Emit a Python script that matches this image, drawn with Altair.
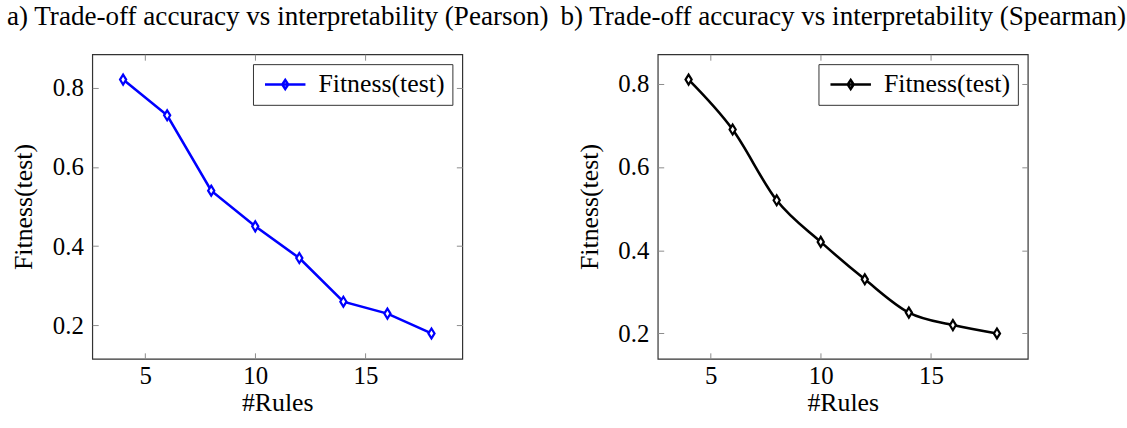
import altair as alt
import pandas as pd

# ---- data ----
rules = [4, 6, 8, 10, 12, 14, 16, 18]
pearson = [0.82, 0.73, 0.54, 0.45, 0.37, 0.26, 0.23, 0.18]
spearman = [0.81, 0.69, 0.52, 0.42, 0.33, 0.25, 0.22, 0.20]
series_name = "Fitness(test)"
x_ticks = [5, 10, 15]
y_ticks = [0.2, 0.4, 0.6, 0.8]
titles = [
    "a) Trade-off accuracy vs interpretability (Pearson)",
    "b) Trade-off accuracy vs interpretability (Spearman)",
]

FONT = "Liberation Serif"
FS = 26
LFS = 25
TFS = 27.3
W, H = 373, 307
DIAMOND = "M0,-1L0.62,0L0,1L-0.62,0Z"
LEGEND_SYMBOL = "M-1.7,0H1.7M0,-0.38L0.25,0L0,0.38L-0.25,0Z"
TICK_COLOR = "#8c8c8c"


def panel(values, color, title, xdom, ydom, interp):
    df = pd.DataFrame({"rules": rules, "fit": values, "series": series_name})
    xs = alt.Scale(domain=xdom, nice=False, zero=False)
    ys = alt.Scale(domain=ydom, nice=False, zero=False)
    col = alt.Color(
        "series:N",
        scale=alt.Scale(domain=[series_name], range=[color]),
        legend=alt.Legend(
            title=None,
            orient="top-right",
            offset=10,
            symbolType=LEGEND_SYMBOL,
            symbolSize=576,
            symbolOffset=12,
            symbolStrokeWidth=2.5,
            symbolFillColor="transparent",
            symbolStrokeColor=color,
            labelFont=FONT,
            labelFontSize=FS,
            labelColor="black",
            strokeColor="#333333",
            fillColor="white",
            padding=7,
            labelOffset=20,
            labelLimit=300,
        ),
    )
    common = dict(offset=-6, tickSize=6, domain=False, grid=False,
                  tickColor=TICK_COLOR, tickWidth=1,
                  labelFont=FONT, labelFontSize=LFS, labelColor="black",
                  titleFont=FONT, titleFontSize=FS, titleFontWeight="normal",
                  titleColor="black")
    line = alt.Chart(df).mark_line(strokeWidth=2.6, interpolate=interp).encode(
        x=alt.X("rules:Q", scale=xs,
                axis=alt.Axis(values=x_ticks, title="#Rules", orient="bottom",
                              labelPadding=5, titleX=W / 2, titleY=58,
                              titleBaseline="alphabetic", titleAlign="center",
                              **common)),
        y=alt.Y("fit:Q", scale=ys,
                axis=alt.Axis(values=y_ticks, title="Fitness(test)", orient="left",
                              labelPadding=9, format=".1f", titleX=-75, titleY=H / 2,
                              titleAngle=270, titleBaseline="middle", titleAlign="center",
                              **common)),
        color=col,
    )
    pts = alt.Chart(df).mark_point(shape=DIAMOND, size=100, strokeWidth=2.2,
                                   filled=False, fill="white", opacity=1).encode(
        x=alt.X("rules:Q", scale=xs,
                axis=alt.Axis(values=x_ticks, orient="top", labels=False,
                              title=title, titleX=W / 2, titleY=-36, titleAngle=0,
                              titleBaseline="alphabetic", titleAlign="center",
                              **{**common, "titleFontSize": TFS})),
        y=alt.Y("fit:Q", scale=ys,
                axis=alt.Axis(values=y_ticks, orient="right", labels=False,
                              title="", **common)),
        color=col,
    )
    return alt.layer(line, pts).resolve_axis(x="independent", y="independent").properties(
        width=W, height=H,
    )


left = panel(pearson, "#0000ff", titles[0], [2.6, 19.4], [0.116, 0.884], "linear")
right = panel(spearman, "#000000", titles[1], [2.6, 19.4], [0.139, 0.871], "monotone")

chart = (
    alt.hconcat(left, right, spacing=197, bounds="flush")
    .resolve_scale(color="independent")
    .resolve_legend(color="independent")
    .properties(padding={"left": 5, "top": 0, "right": 0, "bottom": 0})
    .configure(background="white")
    .configure_view(stroke="#333333", strokeWidth=1.2)
)

chart.save("out.html", embed_options={"renderer": "svg", "actions": False})
